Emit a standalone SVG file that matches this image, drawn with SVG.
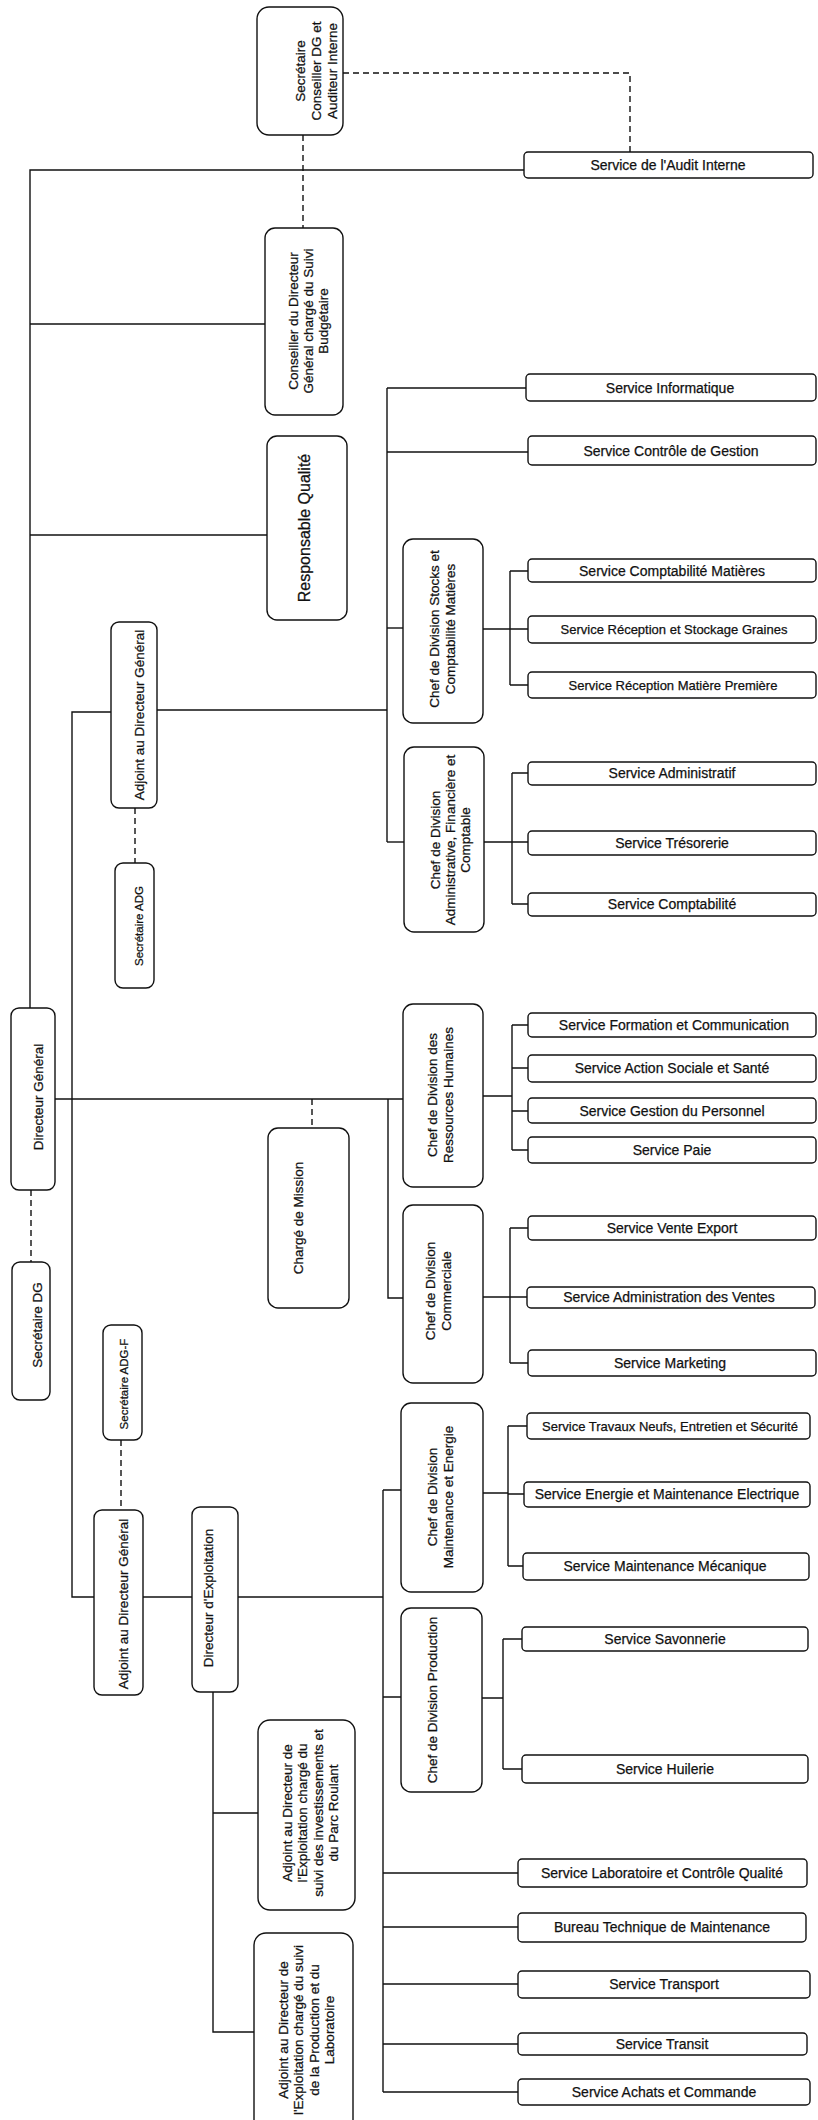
<svg xmlns="http://www.w3.org/2000/svg" width="818" height="2120" viewBox="0 0 818 2120">
<style>
.b{fill:#fff;stroke:#111;stroke-width:1.4}
.c{fill:none;stroke:#111;stroke-width:1.4}
.d{fill:none;stroke:#111;stroke-width:1.4;stroke-dasharray:6,4}
text{font-family:"Liberation Sans",Arial,sans-serif;fill:#111;text-anchor:middle;dominant-baseline:central;stroke:#111;stroke-width:0.25}
.s{font-size:14px}
.s13{font-size:13px}
.v{font-size:13.5px}
.v11{font-size:11.5px}
.q{font-size:16px}
</style>
<rect width="818" height="2120" fill="#fff"/>
<g id="connectors">
<path class="d" d="M343,73 H630 V152"/>
<path class="d" d="M303,135 V228"/>
<path class="c" d="M524,170 H30 V1008"/>
<path class="c" d="M30,324 H265"/>
<path class="c" d="M30,535 H267"/>
<path class="c" d="M157,710 H387"/>
<path class="c" d="M387,388 V842"/>
<path class="c" d="M387,388 H526"/>
<path class="c" d="M387,452 H528"/>
<path class="c" d="M387,628 H403"/>
<path class="c" d="M387,842 H404"/>
<path class="c" d="M483,629 H510 M510,571 V685 M510,571 H528 M510,629 H528 M510,685 H528"/>
<path class="c" d="M484,842 H512 M512,773 V904 M512,773 H528 M512,842 H528 M512,904 H528"/>
<path class="d" d="M135,808 V863"/>
<path class="c" d="M111,712 H72 V1597 H94"/>
<path class="c" d="M55,1099 H403"/>
<path class="d" d="M312,1099 V1128"/>
<path class="c" d="M388,1099 V1298 H403"/>
<path class="d" d="M31,1190 V1262"/>
<path class="c" d="M483,1096 H512 M512,1025 V1150 M512,1025 H528 M512,1068 H528 M512,1111 H528 M512,1150 H528"/>
<path class="c" d="M483,1297 H510 M510,1228 V1363 M510,1228 H528 M510,1297 H527 M510,1363 H528"/>
<path class="d" d="M121,1440 V1510"/>
<path class="c" d="M143,1597 H192"/>
<path class="c" d="M238,1597 H383"/>
<path class="c" d="M383,1490 V2092"/>
<path class="c" d="M383,1490 H401 M383,1697 H401"/>
<path class="c" d="M483,1493 H508 M508,1426 V1566 M508,1426 H527 M508,1494 H524 M508,1566 H523"/>
<path class="c" d="M482,1698 H503 M503,1639 V1769 M503,1639 H522 M503,1769 H522"/>
<path class="c" d="M383,1873 H518 M383,1927 H518 M383,1984 H518 M383,2044 H518 M383,2092 H518"/>
<path class="c" d="M213,1692 V2032 H254 M213,1813 H258"/>
</g>
<g id="n_sec_cons"><rect class="b" x="257" y="7" width="86" height="128" rx="12"/>
<text class="v" transform="translate(316,71) rotate(-90)"><tspan x="0" y="-16">Secrétaire</tspan><tspan x="0" y="0">Conseiller DG et</tspan><tspan x="0" y="16">Auditeur Interne</tspan></text></g>
<g id="n_audit"><rect class="b" x="524" y="152" width="289" height="26" rx="4"/><text class="s" x="668" y="165">Service de l'Audit Interne</text></g>
<g id="n_conseiller"><rect class="b" x="265" y="228" width="78" height="187" rx="10"/>
<text class="v" transform="translate(308,321) rotate(-90)"><tspan x="0" y="-15">Conseiller du Directeur</tspan><tspan x="0" y="0">Général chargé du Suivi</tspan><tspan x="0" y="15">Budgétaire</tspan></text></g>
<g id="n_qualite"><rect class="b" x="267" y="436" width="80" height="184" rx="10"/><text class="q" transform="translate(304,528) rotate(-90)">Responsable Qualité</text></g>
<g id="n_info"><rect class="b" x="526" y="374" width="290" height="27" rx="4"/><text class="s" x="670" y="388">Service Informatique</text></g>
<g id="n_cdg"><rect class="b" x="528" y="436" width="288" height="29" rx="4"/><text class="s" x="671" y="451">Service Contrôle de Gestion</text></g>
<g id="n_chef_stocks"><rect class="b" x="403" y="539" width="80" height="184" rx="10"/>
<text class="v" transform="translate(442,629) rotate(-90)"><tspan x="0" y="-8">Chef de Division Stocks et</tspan><tspan x="0" y="8">Comptabilité Matières</tspan></text></g>
<g id="n_cpt_mat"><rect class="b" x="528" y="559" width="288" height="23" rx="4"/><text class="s" x="672" y="571">Service Comptabilité Matières</text></g>
<g id="n_recep_graines"><rect class="b" x="528" y="616" width="288" height="27" rx="4"/><text class="s13" x="674" y="629">Service Réception et Stockage Graines</text></g>
<g id="n_recep_mp"><rect class="b" x="528" y="672" width="288" height="26" rx="4"/><text class="s13" x="673" y="685">Service Réception Matière Première</text></g>
<g id="n_adjoint1"><rect class="b" x="111" y="622" width="46" height="186" rx="8"/><text class="v" transform="translate(139,715) rotate(-90)">Adjoint au Directeur Général</text></g>
<g id="n_sec_adg"><rect class="b" x="115" y="863" width="39" height="125" rx="8"/><text class="v11" transform="translate(139,926) rotate(-90)">Secrétaire ADG</text></g>
<g id="n_chef_admin"><rect class="b" x="404" y="747" width="80" height="185" rx="10"/>
<text class="v" transform="translate(450,840) rotate(-90)"><tspan x="0" y="-15">Chef de Division</tspan><tspan x="0" y="0">Administrative, Financière et</tspan><tspan x="0" y="15">Comptable</tspan></text></g>
<g id="n_admin"><rect class="b" x="528" y="762" width="288" height="23" rx="4"/><text class="s" x="672" y="773">Service Administratif</text></g>
<g id="n_treso"><rect class="b" x="528" y="831" width="288" height="24" rx="4"/><text class="s" x="672" y="843">Service Trésorerie</text></g>
<g id="n_compta"><rect class="b" x="528" y="893" width="288" height="23" rx="4"/><text class="s" x="672" y="904">Service Comptabilité</text></g>
<g id="n_dg"><rect class="b" x="11" y="1008" width="44" height="182" rx="8"/><text class="v" transform="translate(38,1097) rotate(-90)">Directeur Général</text></g>
<g id="n_sec_dg"><rect class="b" x="12" y="1262" width="38" height="138" rx="8"/><text class="v" transform="translate(37,1325) rotate(-90)">Secrétaire DG</text></g>
<g id="n_chef_rh"><rect class="b" x="403" y="1004" width="80" height="183" rx="10"/>
<text class="v" transform="translate(440,1095) rotate(-90)"><tspan x="0" y="-8">Chef de Division des</tspan><tspan x="0" y="8">Ressources Humaines</tspan></text></g>
<g id="n_form"><rect class="b" x="528" y="1013" width="288" height="24" rx="4"/><text class="s" x="674" y="1025">Service Formation et Communication</text></g>
<g id="n_action"><rect class="b" x="528" y="1055" width="288" height="27" rx="4"/><text class="s" x="672" y="1068">Service Action Sociale et Santé</text></g>
<g id="n_gestion"><rect class="b" x="528" y="1098" width="288" height="25" rx="4"/><text class="s" x="672" y="1111">Service Gestion du Personnel</text></g>
<g id="n_paie"><rect class="b" x="528" y="1137" width="288" height="26" rx="4"/><text class="s" x="672" y="1150">Service Paie</text></g>
<g id="n_charge"><rect class="b" x="268" y="1128" width="81" height="180" rx="10"/><text class="v" transform="translate(298,1218) rotate(-90)">Chargé de Mission</text></g>
<g id="n_chef_com"><rect class="b" x="403" y="1205" width="80" height="178" rx="10"/>
<text class="v" transform="translate(438,1291) rotate(-90)"><tspan x="0" y="-8">Chef de Division</tspan><tspan x="0" y="8">Commerciale</tspan></text></g>
<g id="n_vente"><rect class="b" x="528" y="1216" width="288" height="24" rx="4"/><text class="s" x="672" y="1228">Service Vente Export</text></g>
<g id="n_adv"><rect class="b" x="527" y="1287" width="288" height="21" rx="4"/><text class="s" x="669" y="1297">Service Administration des Ventes</text></g>
<g id="n_mkt"><rect class="b" x="528" y="1350" width="288" height="26" rx="4"/><text class="s" x="670" y="1363">Service Marketing</text></g>
<g id="n_sec_adgf"><rect class="b" x="103" y="1325" width="39" height="115" rx="8"/><text class="v11" transform="translate(124,1384) rotate(-90)">Secrétaire ADG-F</text></g>
<g id="n_adjoint2"><rect class="b" x="94" y="1510" width="49" height="185" rx="8"/><text class="v" transform="translate(123,1604) rotate(-90)">Adjoint au Directeur Général</text></g>
<g id="n_dir_exp"><rect class="b" x="192" y="1507" width="46" height="185" rx="8"/><text class="v" transform="translate(208,1598) rotate(-90)">Directeur d'Exploitation</text></g>
<g id="n_chef_maint"><rect class="b" x="401" y="1403" width="82" height="189" rx="10"/>
<text class="v" transform="translate(440,1497) rotate(-90)"><tspan x="0" y="-8">Chef de Division</tspan><tspan x="0" y="8">Maintenance et Energie</tspan></text></g>
<g id="n_travaux"><rect class="b" x="527" y="1413" width="283" height="26" rx="4"/><text class="s13" x="670" y="1426">Service Travaux Neufs, Entretien et Sécurité</text></g>
<g id="n_energie"><rect class="b" x="524" y="1482" width="286" height="25" rx="4"/><text class="s" x="667" y="1494">Service Energie et Maintenance Electrique</text></g>
<g id="n_mecan"><rect class="b" x="523" y="1553" width="286" height="27" rx="4"/><text class="s" x="665" y="1566">Service Maintenance Mécanique</text></g>
<g id="n_chef_prod"><rect class="b" x="401" y="1608" width="81" height="184" rx="10"/><text class="v" transform="translate(432,1700) rotate(-90)">Chef de Division Production</text></g>
<g id="n_savon"><rect class="b" x="522" y="1627" width="286" height="24" rx="4"/><text class="s" x="665" y="1639">Service Savonnerie</text></g>
<g id="n_huile"><rect class="b" x="522" y="1755" width="286" height="28" rx="4"/><text class="s" x="665" y="1769">Service Huilerie</text></g>
<g id="n_adj_inv"><rect class="b" x="258" y="1720" width="97" height="190" rx="12"/>
<text class="v" transform="translate(310,1813) rotate(-90)"><tspan x="0" y="-23">Adjoint au Directeur de</tspan><tspan x="0" y="-8">l'Exploitation chargé du</tspan><tspan x="0" y="8">suivi des investissements et</tspan><tspan x="0" y="23">du Parc Roulant</tspan></text></g>
<g id="n_adj_prod"><rect class="b" x="254" y="1933" width="99" height="210" rx="12"/>
<text class="v" transform="translate(306,2030) rotate(-90)"><tspan x="0" y="-23">Adjoint au Directeur de</tspan><tspan x="0" y="-8">l'Exploitation chargé du suivi</tspan><tspan x="0" y="8">de la Production et du</tspan><tspan x="0" y="23">Laboratoire</tspan></text></g>
<g id="n_labo"><rect class="b" x="518" y="1859" width="289" height="28" rx="4"/><text class="s" x="662" y="1873">Service Laboratoire et Contrôle Qualité</text></g>
<g id="n_bureau"><rect class="b" x="518" y="1913" width="288" height="29" rx="4"/><text class="s" x="662" y="1927">Bureau Technique de Maintenance</text></g>
<g id="n_transport"><rect class="b" x="518" y="1971" width="292" height="27" rx="4"/><text class="s" x="664" y="1984">Service Transport</text></g>
<g id="n_transit"><rect class="b" x="518" y="2033" width="289" height="22" rx="4"/><text class="s" x="662" y="2044">Service Transit</text></g>
<g id="n_achats"><rect class="b" x="518" y="2079" width="292" height="26" rx="4"/><text class="s" x="664" y="2092">Service Achats et Commande</text></g>
</svg>
